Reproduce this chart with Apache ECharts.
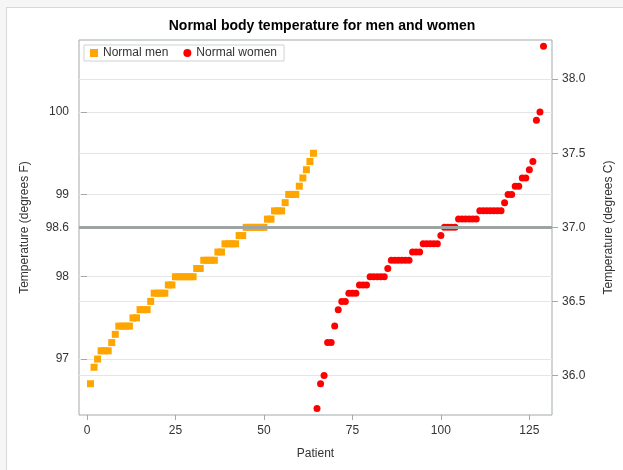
<!DOCTYPE html>
<html>
<head>
<meta charset="utf-8">
<script src="https://cdn.jsdelivr.net/npm/echarts@6/dist/echarts.min.js"></script>
<style>
  html, body { margin: 0; padding: 0; background: #f6f6f6; }
  #panel { position: absolute; left: 6px; top: 7px; width: 640px; height: 480px;
           background: #ffffff; border-left: 1px solid #d6d9d9; border-top: 1px solid #d6d9d9; }
  #chart { position: absolute; left: 0; top: 0; width: 623px; height: 470px; }
</style>
</head>
<body>
<div id="panel"></div>
<div id="chart"></div>
<script>
// Sorted body temperatures (degrees F)
const menTemps = [96.7, 96.9, 97.0, 97.1, 97.1, 97.1, 97.2, 97.3, 97.4, 97.4, 97.4, 97.4,
  97.5, 97.5, 97.6, 97.6, 97.6, 97.7, 97.8, 97.8, 97.8, 97.8, 97.9, 97.9,
  98.0, 98.0, 98.0, 98.0, 98.0, 98.0, 98.1, 98.1, 98.2, 98.2, 98.2, 98.2,
  98.3, 98.3, 98.4, 98.4, 98.4, 98.4, 98.5, 98.5, 98.6, 98.6, 98.6, 98.6, 98.6, 98.6,
  98.7, 98.7, 98.8, 98.8, 98.8, 98.9, 99.0, 99.0, 99.0, 99.1, 99.2, 99.3, 99.4, 99.5];
const womenTemps = [96.4, 96.7, 96.8, 97.2, 97.2, 97.4, 97.6, 97.7, 97.7, 97.8, 97.8, 97.8,
  97.9, 97.9, 97.9, 98.0, 98.0, 98.0, 98.0, 98.0, 98.1, 98.2, 98.2, 98.2, 98.2, 98.2, 98.2,
  98.3, 98.3, 98.3, 98.4, 98.4, 98.4, 98.4, 98.4, 98.5, 98.6, 98.6, 98.6, 98.6,
  98.7, 98.7, 98.7, 98.7, 98.7, 98.7, 98.8, 98.8, 98.8, 98.8, 98.8, 98.8, 98.8, 98.9,
  99.0, 99.0, 99.1, 99.1, 99.2, 99.2, 99.3, 99.4, 99.9, 100.0, 100.8];
const firstPatientMen = 1;
const firstPatientWomen = 65;

const patientTicks = [0, 25, 50, 75, 100, 125];
const fahrenheitTicks = [97, 98, 98.6, 99, 100];
const celsiusTicks = [36.0, 36.5, 37.0, 37.5, 38.0];
const normalTemp = 98.6;

const xRange = [-2.25, 131.4];
const fRange = [96.32, 100.876];

const toC = f => (f - 32) * 5 / 9;
const toF = c => c * 9 / 5 + 32;

const menData = menTemps.map((t, i) => [firstPatientMen + i, t]);
const womenData = womenTemps.map((t, i) => [firstPatientWomen + i, t]);

// horizontal grid lines at every tick of both temperature axes
const gridF = fahrenheitTicks.filter(v => v !== normalTemp).concat(celsiusTicks.map(toF));

const FONT = '"Liberation Sans", Arial, sans-serif';
const TXT = '#333333';
const AX = '#a3a9a9';

const chart = echarts.init(document.getElementById('chart'), null, { renderer: 'canvas' });
chart.setOption({
  backgroundColor: 'transparent',
  animation: false,
  title: {
    text: 'Normal body temperature for men and women',
    left: 317, top: 14, textAlign: 'center',
    textStyle: { fontFamily: FONT, fontSize: 14, fontWeight: 'bold', color: '#000' }
  },
  legend: {
    left: 84, top: 45,
    padding: [2, 7, 2, 6],
    borderColor: '#cfd3d3', borderWidth: 1,
    itemWidth: 8, itemHeight: 8, itemGap: 15,
    textStyle: { fontFamily: FONT, fontSize: 12, color: TXT },
    data: [{ name: 'Normal men', icon: 'rect' }, { name: 'Normal women', icon: 'circle' }]
  },
  grid: {
    left: 79, top: 40, width: 476, height: 375,
    show: true, borderColor: AX, borderWidth: 1, backgroundColor: 'transparent'
  },
  xAxis: {
    type: 'value', min: xRange[0], max: xRange[1],
    name: 'Patient', nameLocation: 'middle', nameGap: 33,
    nameTextStyle: { fontFamily: FONT, fontSize: 12, color: TXT },
    axisLine: { show: false },
    axisTick: { show: true, length: 5, lineStyle: { color: AX }, customValues: patientTicks },
    axisLabel: { fontFamily: FONT, fontSize: 12, color: TXT, margin: 10, customValues: patientTicks },
    splitLine: { show: false }
  },
  yAxis: [{
    type: 'value', min: fRange[0], max: fRange[1],
    name: 'Temperature (degrees F)', nameLocation: 'middle', nameGap: 48,
    nameTextStyle: { fontFamily: FONT, fontSize: 12, color: TXT },
    axisLine: { show: false },
    axisTick: { show: true, length: 6, lineStyle: { color: AX }, customValues: fahrenheitTicks },
    axisLabel: { fontFamily: FONT, fontSize: 12, color: TXT, margin: 10, customValues: fahrenheitTicks,
      formatter: v => String(v) },
    splitLine: { show: false }
  }, {
    type: 'value', min: toC(fRange[0]), max: toC(fRange[1]), position: 'right',
    name: 'Temperature (degrees C)', nameLocation: 'middle', nameGap: 51, nameRotate: 90,
    nameTextStyle: { fontFamily: FONT, fontSize: 12, color: TXT },
    axisLine: { show: false },
    axisTick: { show: true, length: 6, lineStyle: { color: AX }, customValues: celsiusTicks },
    axisLabel: { fontFamily: FONT, fontSize: 12, color: TXT, margin: 10, customValues: celsiusTicks,
      formatter: v => v.toFixed(1) },
    splitLine: { show: false }
  }],
  series: [
    {
      // light grid lines, kept on the bottom layer
      type: 'line', data: [], zlevel: 0, z: 0, silent: true,
      markLine: {
        silent: true, symbol: 'none', label: { show: false }, zlevel: 0, z: 0,
        lineStyle: { color: '#e4e6e6', width: 1, type: 'solid' },
        data: gridF.map(v => ({ yAxis: v }))
      }
    },
    {
      name: 'Normal men', type: 'scatter', symbol: 'rect', symbolSize: 7, zlevel: 1,
      itemStyle: { color: '#ffa500', opacity: 1 }, data: menData
    },
    {
      name: 'Normal women', type: 'scatter', symbol: 'circle', symbolSize: 7, zlevel: 1,
      itemStyle: { color: '#ff0000', opacity: 1 }, data: womenData
    },
    {
      // reference line at normal temperature, above the markers
      type: 'line', data: [], zlevel: 2, silent: true,
      markLine: {
        silent: true, symbol: 'none', label: { show: false }, zlevel: 2, z: 10,
        lineStyle: { color: '#9ea3a3', width: 3, type: 'solid' },
        data: [{ yAxis: normalTemp }]
      }
    }
  ]
});
</script>
</body>
</html>
